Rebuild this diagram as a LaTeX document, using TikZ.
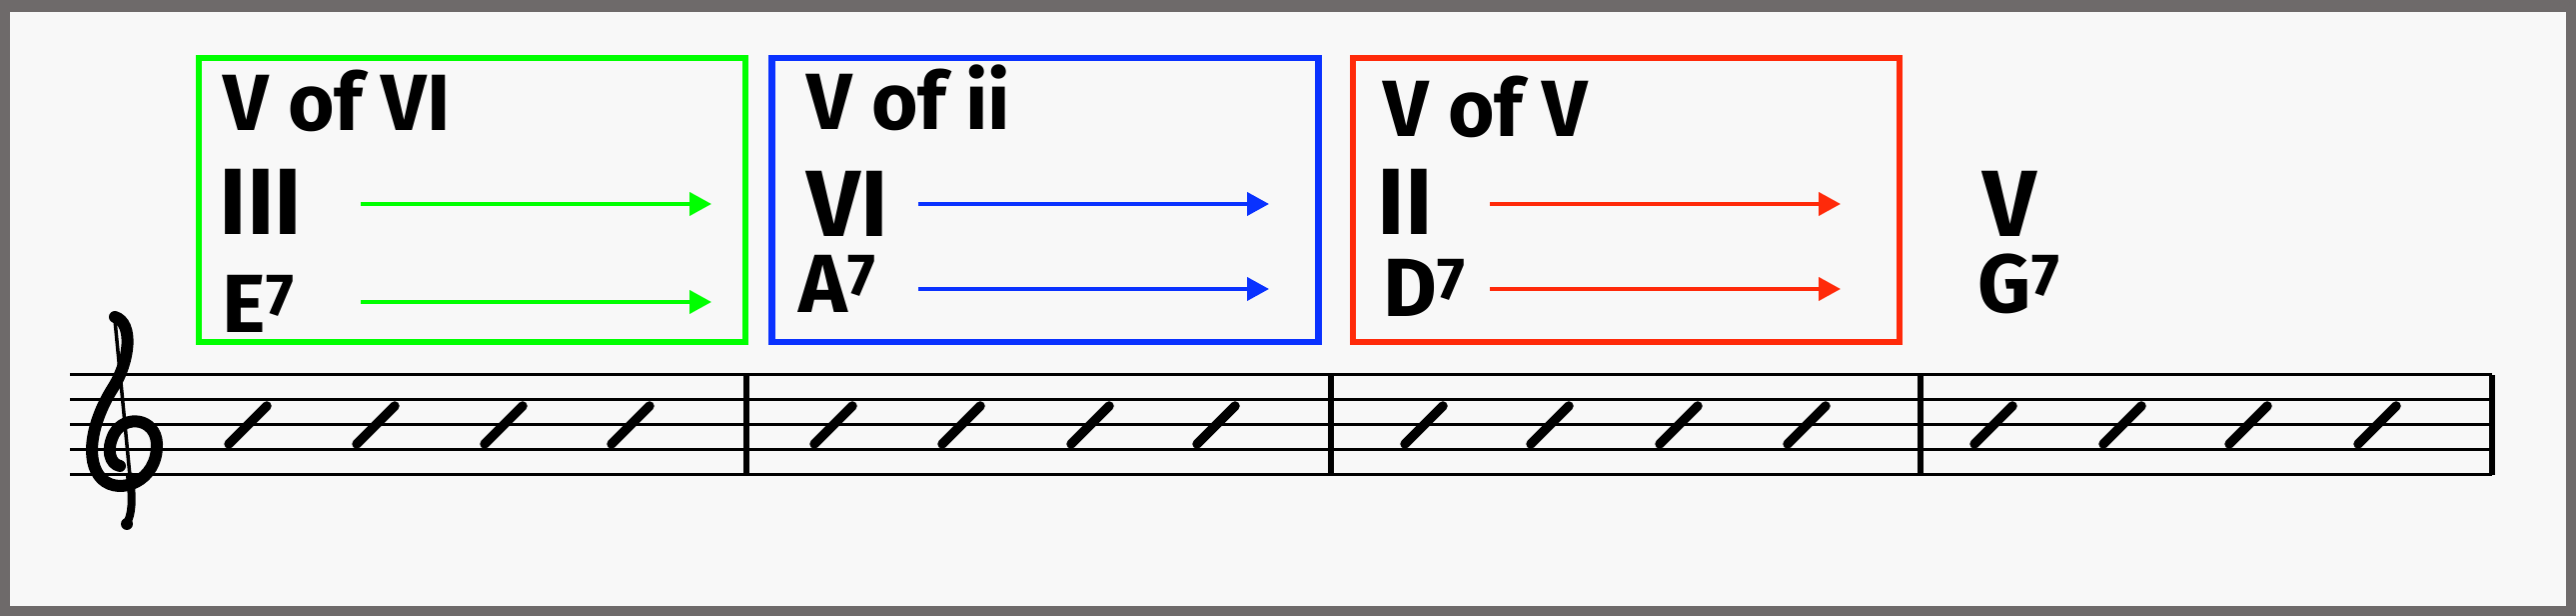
\documentclass[tikz,border=0pt]{standalone}
\usepackage{fontspec}
\setmainfont{Fira Sans}
\usepackage{graphicx}
\usetikzlibrary{arrows.meta}

\definecolor{framegray}{HTML}{6E6A6A}
\definecolor{paper}{HTML}{F8F8F8}
\definecolor{secgreen}{HTML}{00FF00}
\definecolor{secblue}{HTML}{0A32FF}
\definecolor{secred}{HTML}{FF2A0A}

% chord symbol with a raised 7
\newcommand{\seven}[1]{#1\raisebox{5pt}{\scalebox{0.72}{7}}}

\begin{document}
\begin{tikzpicture}[
    % Styles
    secbox/.style={
        rectangle,
        minimum width=5.47cm,
        minimum height=2.84cm,
        line width=0.065cm
    },
    title/.style={anchor=base west, inner sep=0pt, text depth=0pt,
        font=\fontsize{22.7}{26}\selectfont\bfseries},
    numeral/.style={anchor=base west, inner sep=0pt, text height=0.66cm, text depth=0pt,
        font=\fontsize{26.8}{30}\selectfont\bfseries},
    chord/.style={anchor=base west, inner sep=0pt, text height=0.6cm, text depth=0pt,
        font=\fontsize{23.5}{27}\selectfont\bfseries},
    move/.style={line width=0.04cm, -{Triangle[length=0.22cm, width=0.23cm]}},
    staffline/.style={line width=0.03cm},
    barline/.style={line width=0.065cm},
    beat/.style={line width=0.095cm, line cap=round},
    clef/.style={line width=0.12cm, line cap=round}
]

% Frame
\useasboundingbox (0,0) rectangle (25.78,6.16);
\fill[framegray] (0,0) rectangle (25.78,6.16);
\fill[paper] (0.10,0.10) rectangle (25.68,6.04);

% V of VI (green)
\node[secbox, draw=secgreen] (greenbox) at (4.725,4.16) {};
\node[title] (ofvi) at (2.23,4.85) {V of VI};
\node[numeral] (iii) at (2.19,3.81) {III};
\node[chord] (esev) at (2.22,2.83) {\seven{E}};
\coordinate (iiiStart) at (3.61,4.12);
\coordinate (iiiEnd) at (7.12,4.12);
\coordinate (esevStart) at (3.61,3.14);
\coordinate (esevEnd) at (7.12,3.14);
\draw[move, secgreen] (iiiStart) -- (iiiEnd);
\draw[move, secgreen] (esevStart) -- (esevEnd);

% V of ii (blue)
\node[secbox, draw=secblue] (bluebox) at (10.46,4.16) {};
\node[title] (ofii) at (8.07,4.86) {V of ii};
\node[numeral] (vi) at (8.07,3.79) {VI};
\node[chord] (asev) at (7.99,3.03) {\seven{A}};
\coordinate (viStart) at (9.19,4.12);
\coordinate (viEnd) at (12.70,4.12);
\coordinate (asevStart) at (9.19,3.27);
\coordinate (asevEnd) at (12.70,3.27);
\draw[move, secblue] (viStart) -- (viEnd);
\draw[move, secblue] (asevStart) -- (asevEnd);

% V of V (red)
\node[secbox, draw=secred] (redbox) at (16.275,4.16) {};
\node[title] (ofv) at (13.84,4.79) {V of V};
\node[numeral] (ii) at (13.78,3.81) {II};
\node[chord] (dsev) at (13.84,2.99) {\seven{D}};
\coordinate (iiStart) at (14.91,4.12);
\coordinate (iiEnd) at (18.42,4.12);
\coordinate (dsevStart) at (14.91,3.27);
\coordinate (dsevEnd) at (18.42,3.27);
\draw[move, secred] (iiStart) -- (iiEnd);
\draw[move, secred] (dsevStart) -- (dsevEnd);

% Target chord
\node[numeral] (five) at (19.84,3.79) {V};
\node[chord] (gsev) at (19.79,3.03) {\seven{G}};

% Staff
\foreach \y in {1.41,1.66,1.91,2.16,2.41}
    \draw[staffline] (0.70,\y) -- (24.94,\y);
\foreach \x in {7.47,13.32,19.22,24.94}
    \draw[barline] (\x,1.41) -- (\x,2.41);

% Slashes
\foreach \x in {2.48,3.76,5.04,6.31, 8.34,9.62,10.91,12.17,
                14.25,15.51,16.80,18.08, 19.95,21.24,22.50,23.79}
    \draw[beat] ({\x-0.19},1.72) -- ({\x+0.19},2.10);

% Treble clef
\draw[line width=0.035cm] (1.15,2.96) -- (1.30,1.40);
\draw[clef] (1.15,2.99) .. controls (1.34,2.93) and (1.30,2.55) .. (1.13,2.28)
    .. controls (0.92,1.95) and (0.84,1.55) .. (1.02,1.37)
    .. controls (1.20,1.20) and (1.58,1.35) .. (1.57,1.72)
    .. controls (1.56,1.98) and (1.25,2.02) .. (1.14,1.82)
    .. controls (1.06,1.66) and (1.10,1.52) .. (1.20,1.50);
\draw[clef, line width=0.08cm] (1.30,1.40) .. controls (1.33,1.15) and (1.32,1.02) .. (1.27,0.93);
\fill (1.27,0.92) circle (0.06);

\end{tikzpicture}
\end{document}
